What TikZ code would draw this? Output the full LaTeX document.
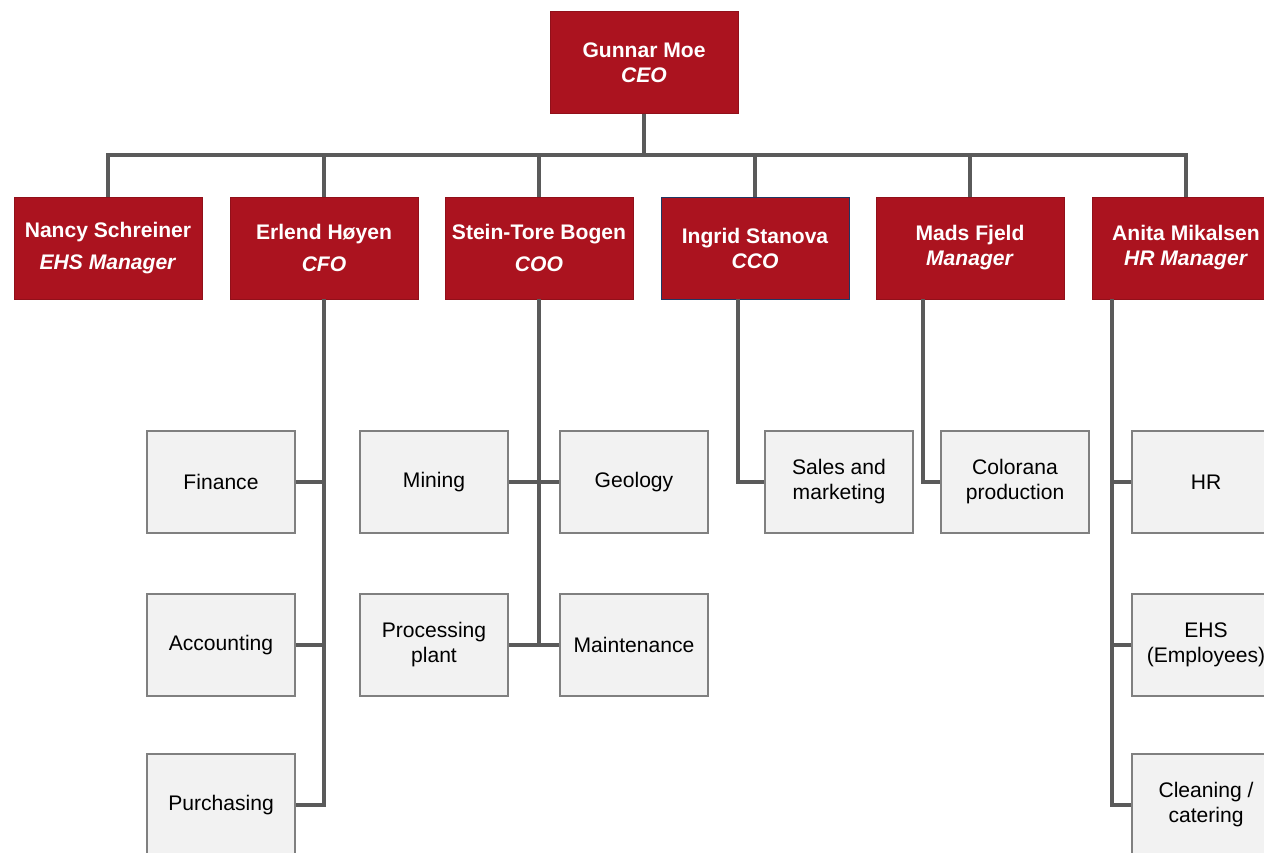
\documentclass[tikz,border=0pt]{standalone}
\usepackage{fontspec}
\setmainfont{Liberation Sans}
\usepackage{tikz}
\usepackage{xcolor}
\usetikzlibrary{positioning}
\definecolor{Org_Red}{HTML}{AB131F}
\definecolor{Org_Grey}{HTML}{F2F2F2}
\definecolor{Org_Edge}{HTML}{808080}
\definecolor{Org_Line}{HTML}{5A5A5A}
\definecolor{Org_Navy}{HTML}{1F3864}

\begin{document}
\begin{tikzpicture}[x=0.02cm, y=-0.02cm,
    head/.style={draw=Org_Red!85!black, line width=0.4pt, fill=Org_Red, text=white, minimum width=3.76cm, minimum height=2.04cm, inner sep=0pt, align=center, font=\fontsize{12}{14.2}\selectfont\bfseries},
    unit/.style={draw=Org_Edge, line width=1.1pt, fill=Org_Grey, minimum width=2.96cm, minimum height=2.04cm, inner sep=0pt, align=center, font=\fontsize{12}{14.2}\selectfont},
    link/.style={draw=Org_Line, line width=2.3pt}]

    \useasboundingbox (0,0) rectangle (1264,852);
    \clip (0,0) rectangle (1264,852);

    % Top management
    \node[head] (ceo) at (644,62.5) {Gunnar Moe\\\textit{CEO}};
    \node[head] (nancy) at (108,248) {Nancy Schreiner\\[0.14cm]\textit{EHS Manager}};
    \node[head] (erlend) at (324,248) {Erlend Høyen\\[0.14cm]\textit{CFO}};
    \node[head] (stein) at (539,248) {Stein-Tore Bogen\\[0.14cm]\textit{COO}};
    \node[head, draw=Org_Navy] (ingrid) at (755,248) {Ingrid Stanova\\\textit{CCO}};
    \node[head] (mads) at (970,248) {Mads Fjeld\\\textit{Manager}};
    \node[head] (anita) at (1186,248) {Anita Mikalsen\\\textit{HR Manager}};

    % Units
    \node[unit] (finance) at (221,482) {Finance};
    \node[unit] (accounting) at (221,645) {Accounting};
    \node[unit] (purchasing) at (221,805) {Purchasing};
    \node[unit] (mining) at (434,482) {Mining};
    \node[unit] (geology) at (634,482) {Geology};
    \node[unit] (plant) at (434,645) {Processing\\plant};
    \node[unit] (maint) at (634,645) {Maintenance};
    \node[unit] (sales) at (839,482) {Sales and\\marketing};
    \node[unit] (colorana) at (1015,482) {Colorana\\production};
    \node[unit] (hr) at (1206,482) {HR};
    \node[unit] (ehs) at (1206,645) {EHS\\(Employees)};
    \node[unit] (cleaning) at (1206,805) {Cleaning /\\catering};

    % Bus and drop points
    \coordinate (bus) at (644,155);
    \coordinate (ingridout) at (738,299);
    \coordinate (madsout) at (923,299);
    \coordinate (anitaout) at (1112,299);

    % Lines from the CEO
    \draw[link] (ceo.south) -- (bus);
    \foreach \who in {nancy, erlend, stein, ingrid, mads, anita}
        \draw[link] (bus) -| (\who.north);

    % CFO
    \draw[link] (erlend.south) |- (purchasing.east);
    \draw[link] (finance.east) -- (finance.east -| erlend.south);
    \draw[link] (accounting.east) -- (accounting.east -| erlend.south);

    % COO
    \draw[link] (stein.south) -- (stein.south |- maint.west);
    \draw[link] (mining.east) -- (geology.west);
    \draw[link] (plant.east) -- (maint.west);

    % CCO and Manager
    \draw[link] (ingridout) |- (sales.west);
    \draw[link] (madsout) |- (colorana.west);

    % HR
    \draw[link] (anitaout) |- (cleaning.west);
    \draw[link] (hr.west) -- (hr.west -| anitaout);
    \draw[link] (ehs.west) -- (ehs.west -| anitaout);
\end{tikzpicture}
\end{document}
